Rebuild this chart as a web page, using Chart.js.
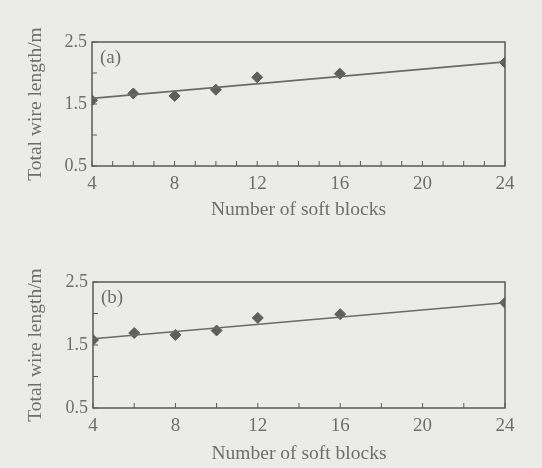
<!DOCTYPE html>
<html>
<head>
<meta charset="utf-8">
<script src="https://cdn.jsdelivr.net/npm/chart.js@4.4.1/dist/chart.umd.min.js"></script>
<style>
    html, body { margin: 0; padding: 0; background: #ebebea; }
    .panel { position: absolute; left: 0; width: 542px; height: 234px; }
    #panelA { top: 0; }
    #panelB { top: 234px; }
</style>
</head>
<body>
<div class="panel" id="panelA"><canvas id="chartA"></canvas></div>
<div class="panel" id="panelB"><canvas id="chartB"></canvas></div>
<script>
// number of soft blocks
const blocks = [4, 6, 8, 10, 12, 16, 24];
// total wire length / m
const wireA = [1.56, 1.67, 1.63, 1.73, 1.93, 1.99, 2.17];
const wireB = [1.58, 1.69, 1.66, 1.73, 1.93, 1.99, 2.17];
// fitted trend line ends
const fitX = [4, 24];
const fitA = [1.59, 2.18];
const fitB = [1.60, 2.17];
const xTickLabels = [4, 8, 12, 16, 20, 24];
const yTickLabels = [0.5, 1.5, 2.5];

const serif = "'Liberation Serif', 'DejaVu Serif', serif";
const textColor = "#6e6e6e";
const inkColor = "#5a5a5a";

const framePlugin = {
    id: "frame",
    afterDraw(chart, args, opts) {
        const { ctx, chartArea: a, scales } = chart;
        ctx.save();
        ctx.strokeStyle = inkColor;
        ctx.lineWidth = 1.5;
        ctx.strokeRect(a.left, a.top, a.right - a.left, a.bottom - a.top);

        // inward ticks
        ctx.lineWidth = 1;
        for (let v = 4; v <= 24; v += opts.xMinor) {
            const px = scales.x.getPixelForValue(v);
            ctx.beginPath();
            ctx.moveTo(px, a.bottom);
            ctx.lineTo(px, a.bottom - 5);
            ctx.stroke();
        }
        for (let v = 0.5; v <= 2.5; v += 0.5) {
            const py = scales.y.getPixelForValue(v);
            ctx.beginPath();
            ctx.moveTo(a.left, py);
            ctx.lineTo(a.left + 5, py);
            ctx.stroke();
        }

        ctx.fillStyle = textColor;
        ctx.font = "19px " + serif;
        ctx.textBaseline = "middle";
        ctx.fillText(opts.tag, a.left + 8, a.top + 16);
        ctx.restore();
    }
};

function makeChart(id, pts, fit, tag, layout) {
    const ctx = document.getElementById(id).getContext("2d");
    return new Chart(ctx, {
        type: "scatter",
        data: {
            datasets: [
                {
                    type: "line",
                    data: fitX.map((x, i) => ({ x: x, y: fit[i] })),
                    borderColor: "#6a6a6a",
                    borderWidth: 1.6,
                    pointRadius: 0,
                    fill: false
                },
                {
                    data: blocks.map((x, i) => ({ x: x, y: pts[i] })),
                    pointStyle: "rectRot",
                    pointRadius: 5.5,
                    backgroundColor: "#5e5e5e",
                    borderColor: "#5e5e5e"
                }
            ]
        },
        options: {
            responsive: true,
            maintainAspectRatio: false,
            animation: false,
            layout: { padding: { top: layout.top, right: 37, left: 0, bottom: 0 } },
            plugins: {
                legend: { display: false },
                tooltip: { enabled: false },
                frame: { tag: tag, xMinor: layout.xMinor }
            },
            scales: {
                x: {
                    type: "linear",
                    min: 4,
                    max: 24,
                    afterFit: (s) => { s.height = layout.xHeight; },
                    afterBuildTicks: (s) => { s.ticks = xTickLabels.map(v => ({ value: v })); },
                    grid: { display: false, drawTicks: false },
                    border: { display: false },
                    ticks: {
                        padding: 7,
                        color: textColor,
                        font: { family: serif, size: 19 },
                        maxRotation: 0
                    },
                    title: {
                        display: true,
                        text: "Number of soft blocks",
                        color: textColor,
                        font: { family: serif, size: 19.5 },
                        padding: { top: 0, bottom: layout.titleGap }
                    }
                },
                y: {
                    min: 0.5,
                    max: 2.5,
                    afterFit: (s) => { s.width = layout.left; },
                    afterBuildTicks: (s) => { s.ticks = yTickLabels.map(v => ({ value: v })); },
                    grid: { display: false, drawTicks: false },
                    border: { display: false },
                    ticks: {
                        padding: 5,
                        color: textColor,
                        font: { family: serif, size: 18 },
                        callback: (v) => v.toFixed(1)
                    },
                    title: {
                        display: true,
                        text: "Total wire length/m",
                        color: textColor,
                        font: { family: serif, size: 19.5 },
                        padding: { top: 24, bottom: 0 }
                    }
                }
            }
        },
        plugins: [framePlugin]
    });
}

makeChart("chartA", wireA, fitA, "(a)", { top: 42, left: 92, xHeight: 68, titleGap: 12, xMinor: 1 });
makeChart("chartB", wireB, fitB, "(b)", { top: 48, left: 93, xHeight: 60, titleGap: 2, xMinor: 2 });
</script>
</body>
</html>
